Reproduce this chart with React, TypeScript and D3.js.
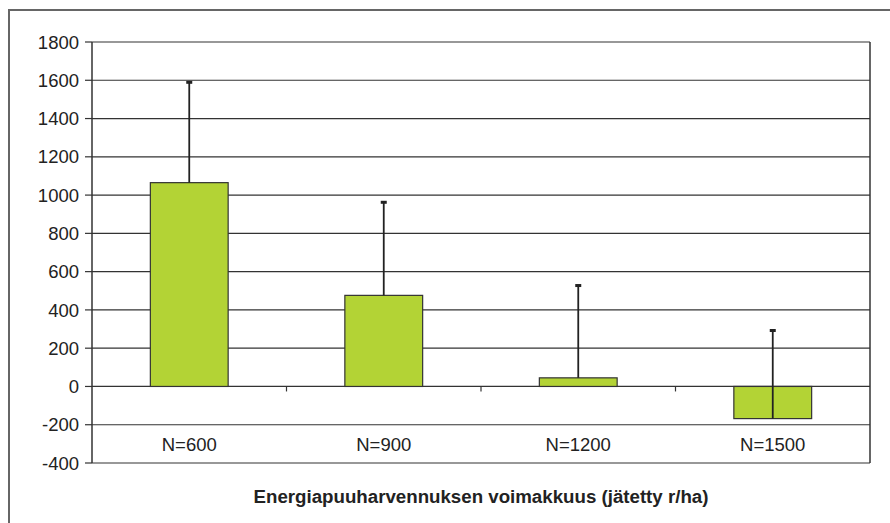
import React from "react";
import * as d3 from "d3";

const categories = ["N=600", "N=900", "N=1200", "N=1500"];
const values = [1065, 476, 45, -168];
const errorTops = [1592, 965, 530, 295];
const yTicks = [-400, -200, 0, 200, 400, 600, 800, 1000, 1200, 1400, 1600, 1800];
const xTitle = "Energiapuuharvennuksen voimakkuus (jätetty r/ha)";

export default function App() {
  const W = 890, H = 523;
  const left = 92, right = 870, top = 42, bottom = 463;
  const x = d3.scaleBand().domain(categories).range([left, right]).paddingInner(0).paddingOuter(0);
  const y = d3.scaleLinear().domain([-400, 1800]).range([bottom, top]);
  const bw = x.bandwidth() * 0.4;
  const font = "'Liberation Sans', Arial, sans-serif";
  const grid = "#333";
  return (
    <svg width={W} height={H} style={{ position: "absolute", left: 0, top: 0, background: "#fff" }}>
      <rect x={0} y={0} width={W} height={H} fill="#fff" />
      <rect x={9} y={10} width={W + 10} height={H + 10} fill="none" stroke="#666" strokeWidth={2} />
      {yTicks.map((t) => (
        <g key={t}>
          <line x1={left} x2={right} y1={y(t)} y2={y(t)} stroke={grid} strokeWidth={1.2} />
          <line x1={left - 7} x2={left} y1={y(t)} y2={y(t)} stroke={grid} strokeWidth={1.2} />
          <text x={79} y={y(t)} dy="0.36em" textAnchor="end" fontFamily={font} fontSize={18.5} fill="#222">
            {t}
          </text>
        </g>
      ))}
      <line x1={left} x2={left} y1={top} y2={bottom} stroke={grid} strokeWidth={1.5} />
      <line x1={right} x2={right} y1={top} y2={bottom} stroke={grid} strokeWidth={1.5} />
      {categories.slice(1).map((c) => (
        <line key={c} x1={x(c)!} x2={x(c)!} y1={y(0)} y2={y(0) + 5} stroke={grid} strokeWidth={1.2} />
      ))}
      {categories.map((c, i) => {
        const cx = x(c)! + x.bandwidth() / 2;
        const y0 = y(0), yv = y(values[i]);
        return (
          <g key={c}>
            <rect x={cx - bw / 2} y={Math.min(y0, yv)} width={bw} height={Math.abs(yv - y0)} fill="#b3d335" stroke="#333" strokeWidth={1.2} />
            <line x1={cx} x2={cx} y1={yv} y2={y(errorTops[i])} stroke="#222" strokeWidth={1.8} />
            <rect x={cx - 3} y={y(errorTops[i]) - 1} width={6} height={3} fill="#222" />
            <text x={cx} y={y(-300)} dy="0.36em" textAnchor="middle" fontFamily={font} fontSize={18.5} fill="#222">
              {c}
            </text>
          </g>
        );
      })}
      <text x={(left + right) / 2} y={503} textAnchor="middle" fontFamily={font} fontSize={18.7} fontWeight="bold" fill="#222">
        {xTitle}
      </text>
    </svg>
  );
}
